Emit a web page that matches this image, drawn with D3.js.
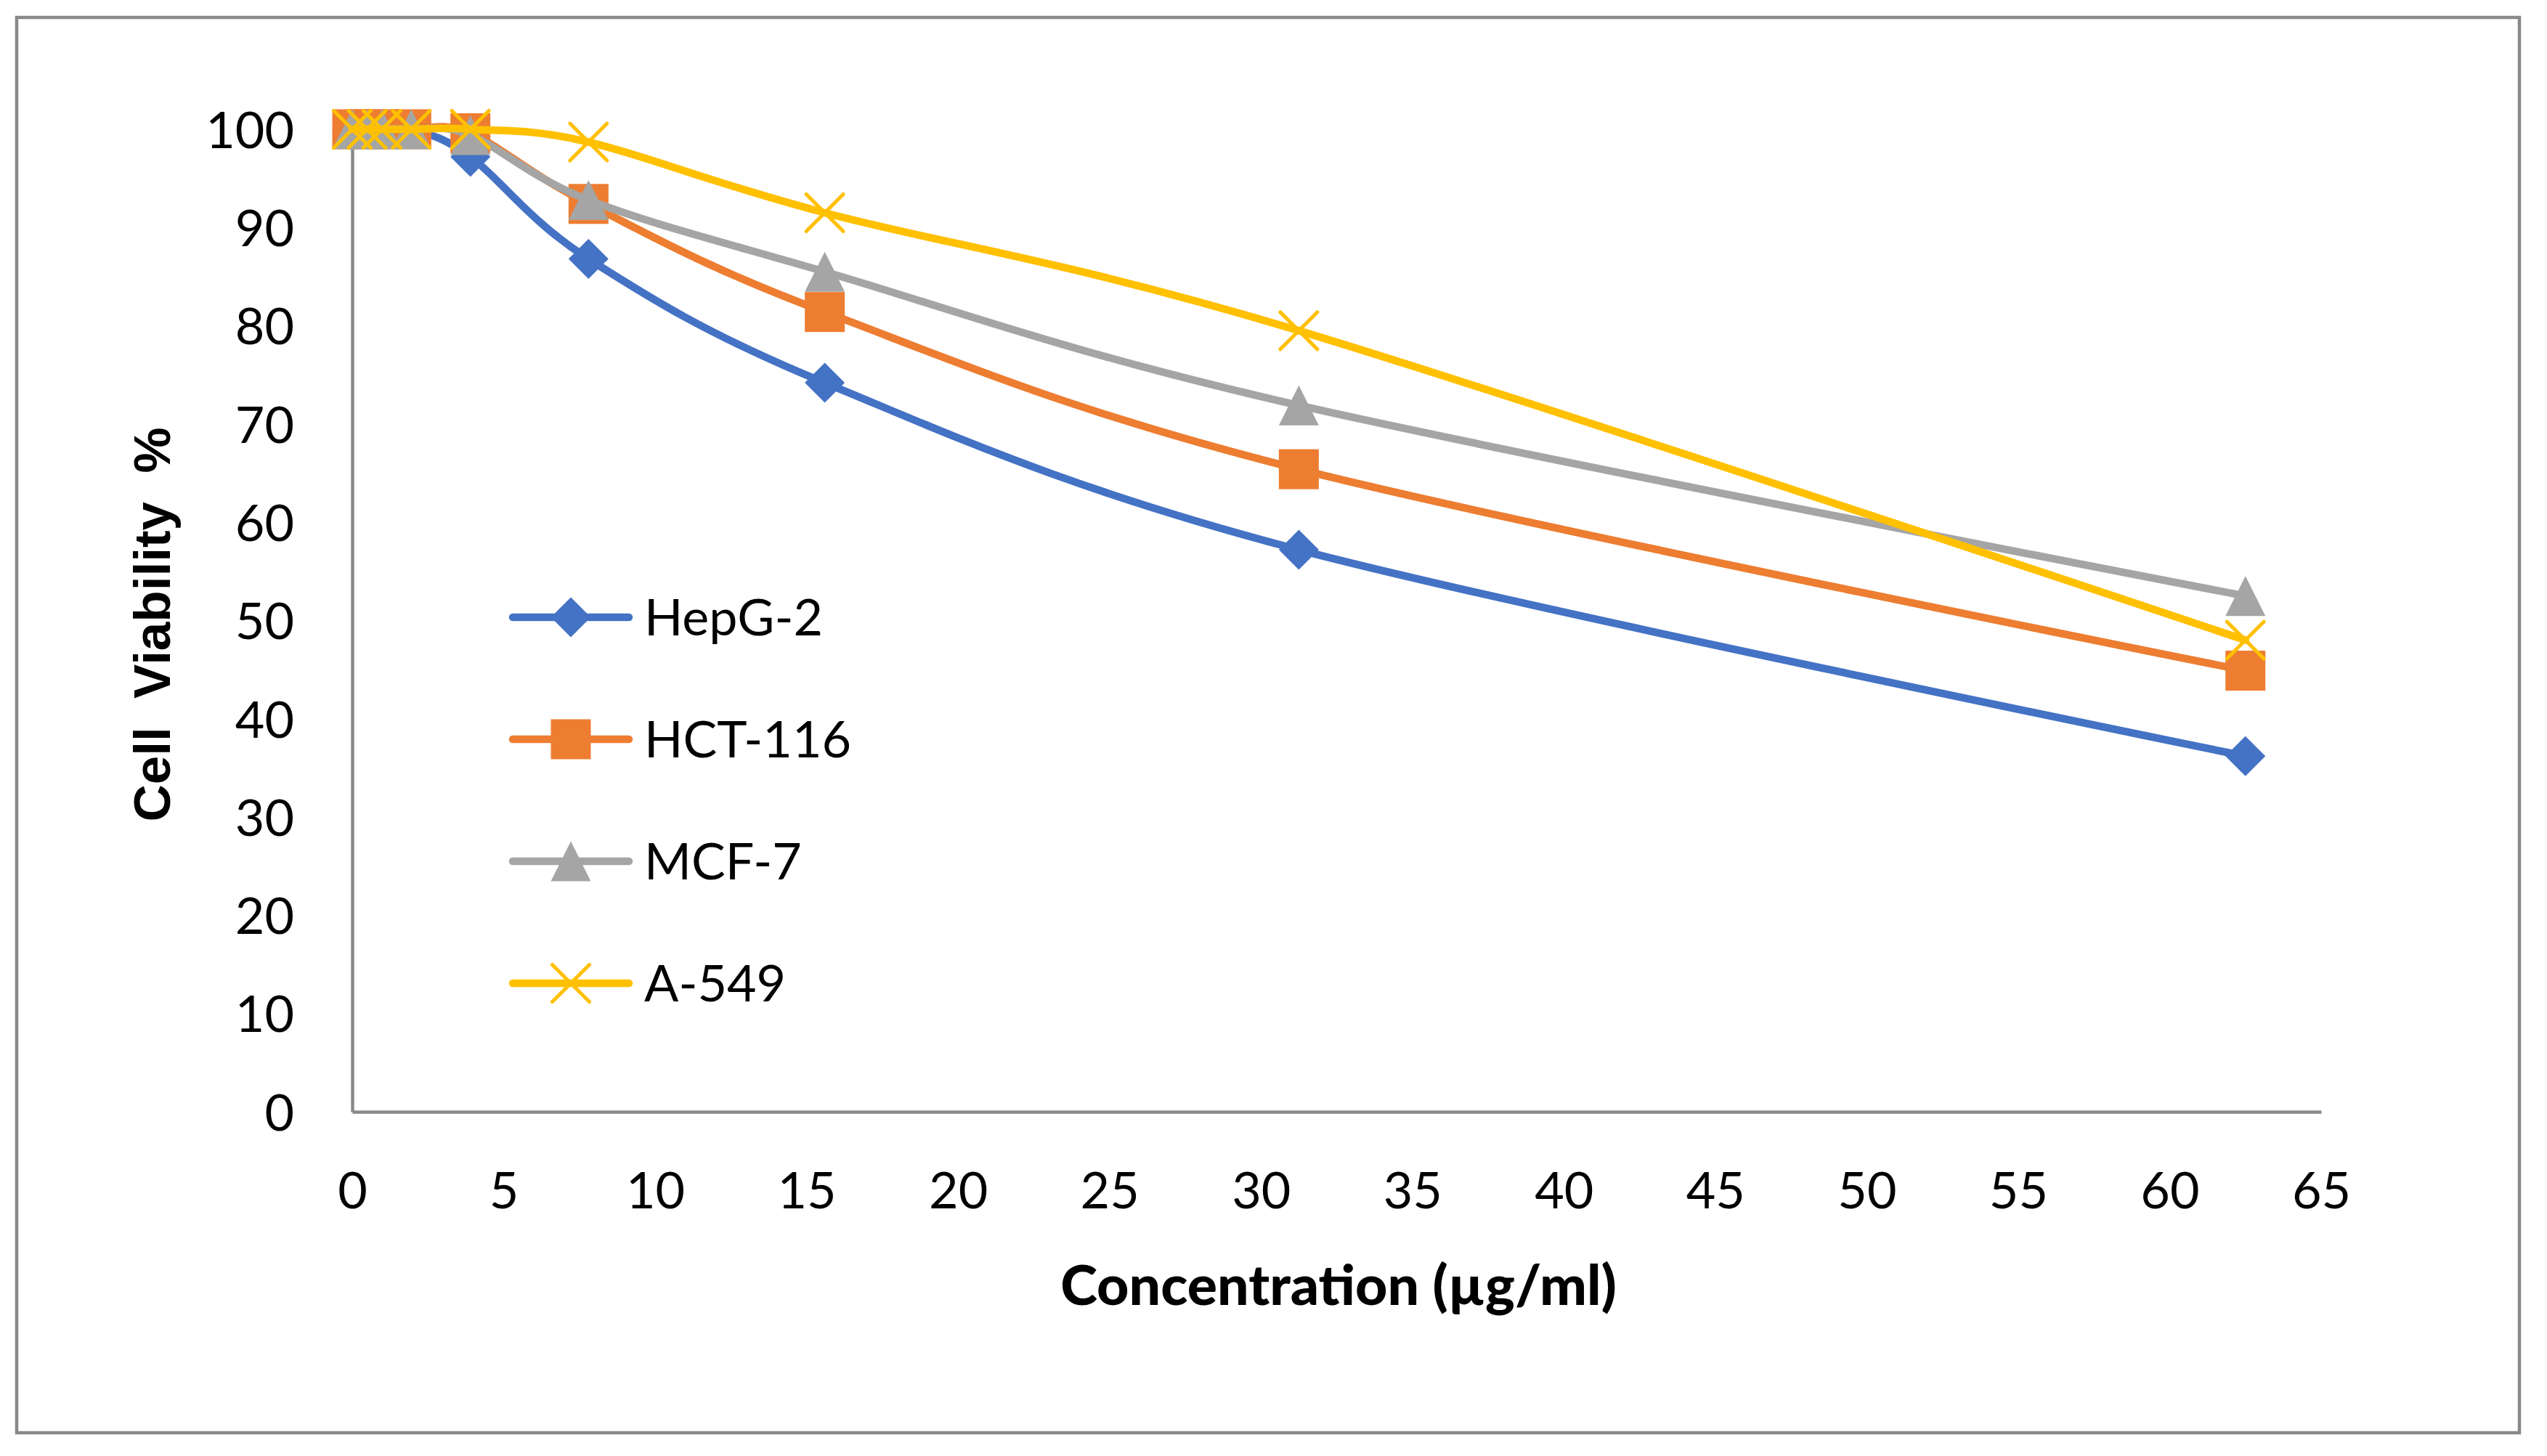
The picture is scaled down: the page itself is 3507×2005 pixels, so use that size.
<!DOCTYPE html>
<html>
<head>
<meta charset="utf-8">
<script src="https://cdn.jsdelivr.net/npm/d3@7"></script>
<style>
  body { margin: 0; background: #fff; }
  text { fill: #000; }
</style>
</head>
<body>
<div id="chart"></div>
<script>
// concentrations (µg/ml)
const concentrations = [0, 0.49, 0.98, 1.95, 3.9, 7.8, 15.6, 31.25, 62.5];

// cell viability %
const hepg2  = [100, 100, 100, 100, 97.2, 86.8, 74.2, 57.2, 36.2];
const hct116 = [100, 100, 100, 100, 99.6, 92.4, 81.4, 65.4, 44.9];
const mcf7   = [100, 100, 100, 100, 99.4, 92.8, 85.5, 71.9, 52.5];
const a549   = [100, 100, 100, 100, 100, 98.7, 91.5, 79.5, 48.0];

const seriesNames = ['HepG-2', 'HCT-116', 'MCF-7', 'A-549'];
const seriesValues = [hepg2, hct116, mcf7, a549];
const seriesColors = ['#4472C4', '#ED7D31', '#A5A5A5', '#FFC000'];
const seriesMarkers = ['diamond', 'square', 'triangle', 'x'];

const xTicks = [0, 5, 10, 15, 20, 25, 30, 35, 40, 45, 50, 55, 60, 65];
const yTicks = [0, 10, 20, 30, 40, 50, 60, 70, 80, 90, 100];

const W = 3507, H = 2005;
const margin = {top: 178, right: 311, bottom: 474, left: 485};

const svg = d3.select('#chart').append('svg')
    .attr('width', W)
    .attr('height', H);

// outer frame
svg.append('rect')
    .attr('x', 23).attr('y', 24)
    .attr('width', 3446).attr('height', 1949)
    .attr('fill', 'none')
    .attr('stroke', '#898989')
    .attr('stroke-width', 4.5);

const x = d3.scaleLinear()
    .domain([0, 65])
    .range([margin.left, W - margin.right]);

const y = d3.scaleLinear()
    .domain([0, 100])
    .range([H - margin.bottom, margin.top]);

// axes
const xAxis = svg.append('g')
    .attr('transform', 'translate(0,' + y(0) + ')')
    .call(d3.axisBottom(x).tickValues(xTicks).tickSize(0).tickPadding(133));
xAxis.select('.domain').attr('stroke', '#898989').attr('stroke-width', 4.5);
xAxis.selectAll('text')
    .attr('font-family', 'Lato, sans-serif')
    .attr('font-size', 70)
    .attr('dy', 0)
    .attr('fill', '#000');

const yAxis = svg.append('g')
    .attr('transform', 'translate(' + x(0) + ',0)')
    .call(d3.axisLeft(y).tickValues(yTicks).tickSize(0).tickPadding(80));
yAxis.select('.domain').attr('stroke', '#898989').attr('stroke-width', 4.5);
yAxis.selectAll('text')
    .attr('font-family', 'Lato, sans-serif')
    .attr('font-size', 70)
    .attr('dy', '0.36em')
    .attr('fill', '#000');

// axis titles
svg.append('text')
    .attr('x', 1843)
    .attr('y', 1797)
    .attr('text-anchor', 'middle')
    .attr('font-family', 'Lato, sans-serif')
    .attr('font-weight', 900)
    .attr('font-size', 77)
    .text('Concentration (µg/ml)');

svg.append('text')
    .attr('transform', 'translate(234,860) rotate(-90)')
    .attr('text-anchor', 'middle')
    .attr('font-family', 'Liberation Sans, Arial, sans-serif')
    .attr('font-weight', 'bold')
    .attr('font-size', 71)
    .attr('xml:space', 'preserve')
    .style('white-space', 'pre')
    .text('Cell  Viability  %');

const ms = 55;

function drawMarker(g, type, color) {
  if (type === 'diamond') {
    g.append('path')
     .attr('d', 'M0,' + (-ms / 2) + 'L' + (ms / 2) + ',0L0,' + (ms / 2) + 'L' + (-ms / 2) + ',0Z')
     .attr('fill', color);
  } else if (type === 'square') {
    g.append('rect')
     .attr('x', -ms / 2).attr('y', -ms / 2)
     .attr('width', ms).attr('height', ms)
     .attr('fill', color);
  } else if (type === 'triangle') {
    g.append('path')
     .attr('d', 'M0,' + (-ms / 2) + 'L' + (ms / 2) + ',' + (ms / 2) + 'L' + (-ms / 2) + ',' + (ms / 2) + 'Z')
     .attr('fill', color);
  } else {
    const r = ms / 2 - 2;
    g.append('path')
     .attr('d', 'M' + (-r) + ',' + (-r) + 'L' + r + ',' + r + 'M' + r + ',' + (-r) + 'L' + (-r) + ',' + r)
     .attr('stroke', color)
     .attr('stroke-width', 5)
     .attr('stroke-linecap', 'round')
     .attr('fill', 'none');
  }
}

const line = d3.line()
    .x(function(d) { return x(d[0]); })
    .y(function(d) { return y(d[1]); })
    .curve(d3.curveCardinal.tension(0));

for (let s = 0; s < seriesNames.length; s++) {
  const pts = concentrations.map(function(c, i) { return [c, seriesValues[s][i]]; });
  svg.append('path')
     .datum(pts)
     .attr('d', line)
     .attr('fill', 'none')
     .attr('stroke', seriesColors[s])
     .attr('stroke-width', 10.5)
     .attr('stroke-linejoin', 'round')
     .attr('stroke-linecap', 'round');

  svg.append('g').selectAll('g')
     .data(pts)
     .enter()
     .append('g')
     .attr('transform', function(d) { return 'translate(' + x(d[0]) + ',' + y(d[1]) + ')'; })
     .each(function() { drawMarker(d3.select(this), seriesMarkers[s], seriesColors[s]); });
}

// legend
const legendY = [850, 1018, 1186, 1354];
for (let s = 0; s < seriesNames.length; s++) {
  const lg = svg.append('g').attr('transform', 'translate(0,' + legendY[s] + ')');
  lg.append('line')
    .attr('x1', 706).attr('x2', 866)
    .attr('y1', 0).attr('y2', 0)
    .attr('stroke', seriesColors[s])
    .attr('stroke-width', 10.5)
    .attr('stroke-linecap', 'round');
  drawMarker(lg.append('g').attr('transform', 'translate(786,0)'), seriesMarkers[s], seriesColors[s]);
  lg.append('text')
    .attr('x', 887)
    .attr('y', 0)
    .attr('dy', '0.36em')
    .attr('font-family', 'Lato, sans-serif')
    .attr('font-size', 70)
    .text(seriesNames[s]);
}
</script>
</body>
</html>
